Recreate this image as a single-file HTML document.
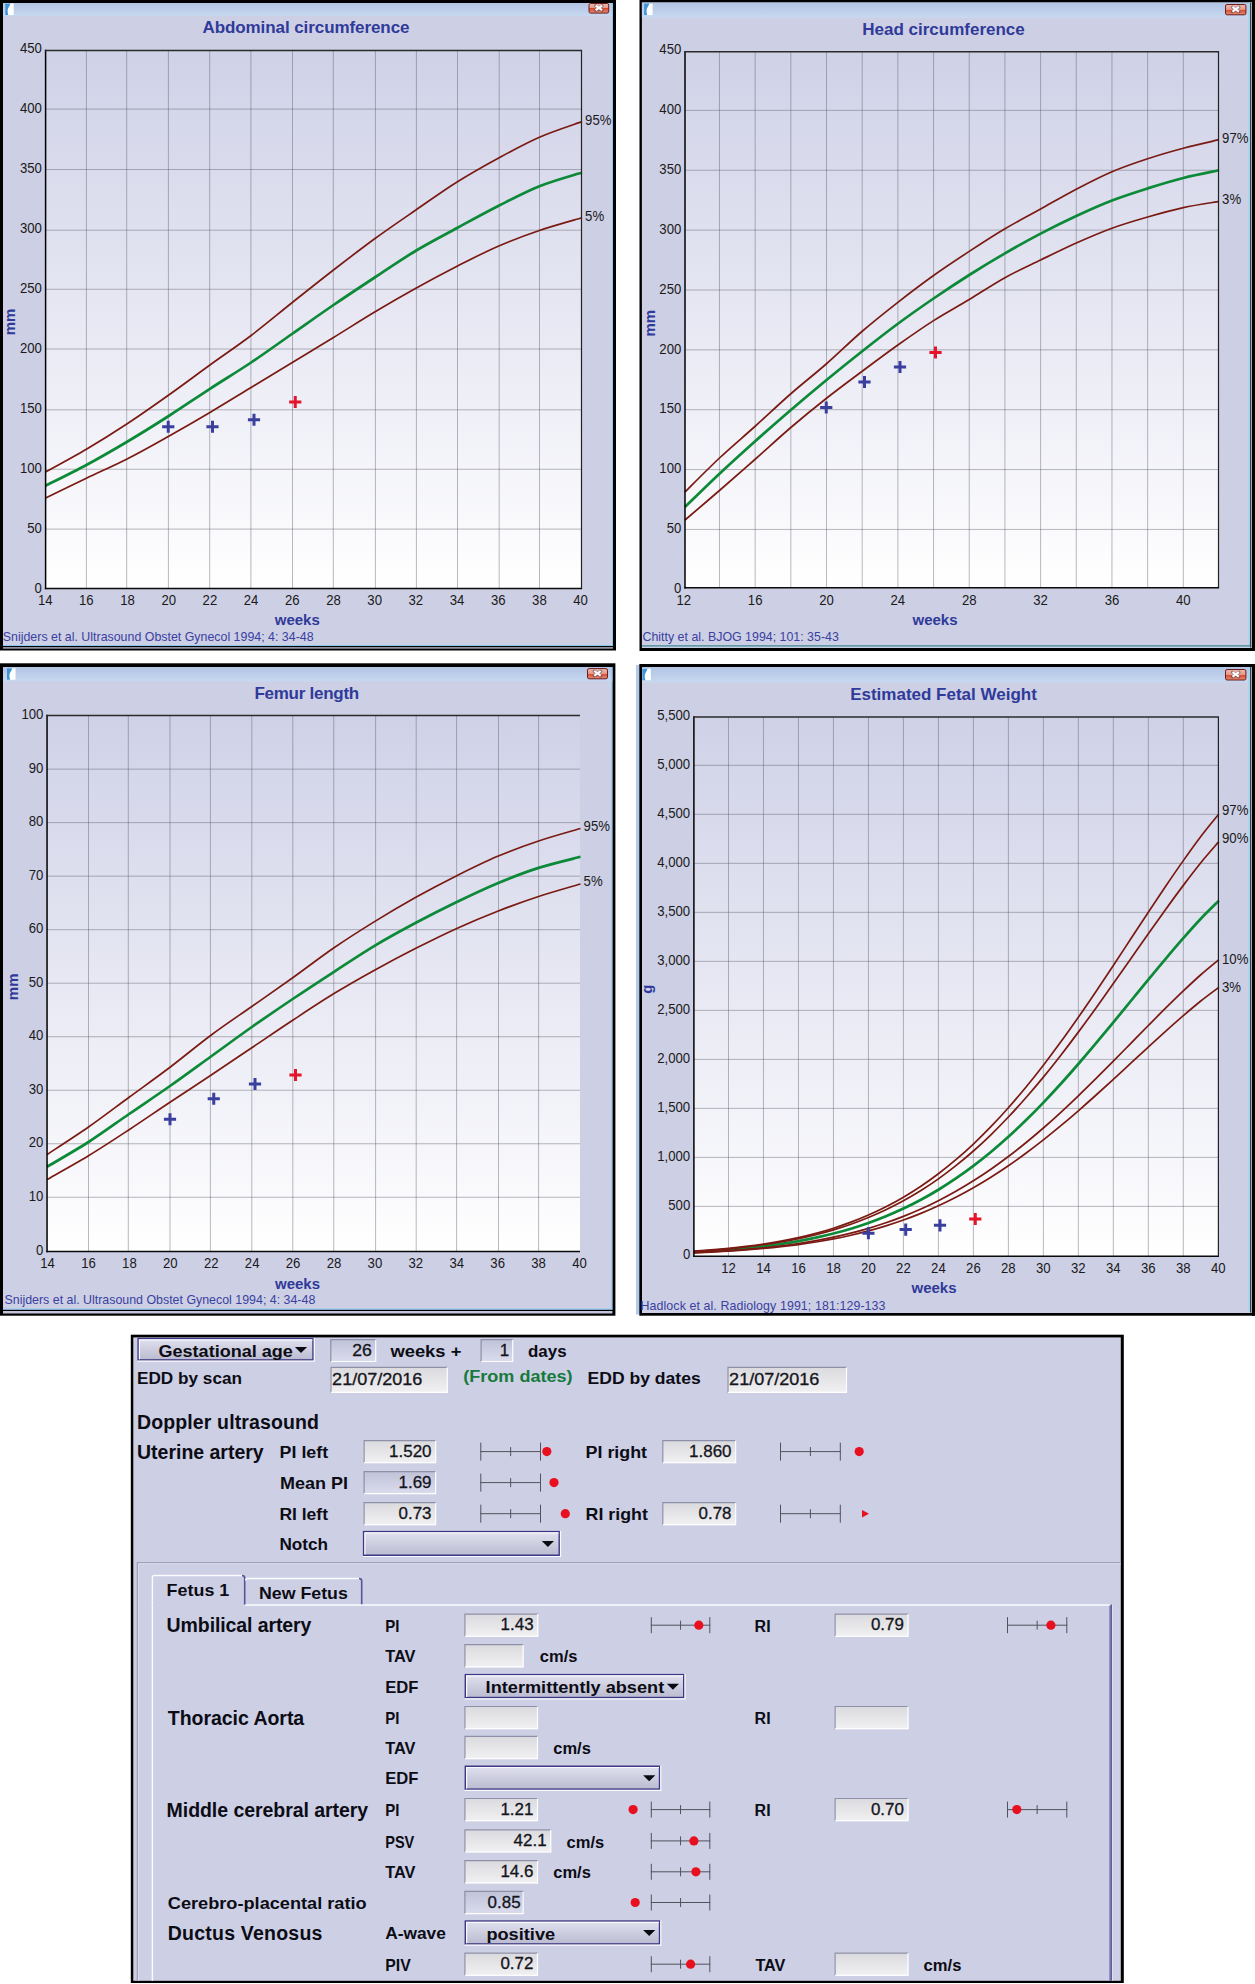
<!DOCTYPE html><html><head><meta charset="utf-8"><title>Fetal growth charts</title>
<style>html,body{margin:0;padding:0;background:#fff}svg{display:block}text{font-family:"Liberation Sans",sans-serif}</style></head><body>
<svg width="1255" height="1984" viewBox="0 0 1255 1984">
<defs>
<linearGradient id="tb" x1="0" y1="0" x2="0" y2="1"><stop offset="0" stop-color="#b1c4e3"/><stop offset="1" stop-color="#c7d8f0"/></linearGradient>
<linearGradient id="cb" x1="0" y1="0" x2="0" y2="1"><stop offset="0" stop-color="#f0b9ab"/><stop offset="0.48" stop-color="#e6998a"/><stop offset="0.52" stop-color="#d5492f"/><stop offset="1" stop-color="#e88e74"/></linearGradient>
<linearGradient id="pg" x1="0" y1="0" x2="0" y2="1"><stop offset="0" stop-color="#cfd1e7"/><stop offset="1" stop-color="#ffffff"/></linearGradient>
<linearGradient id="fld" x1="0" y1="0" x2="0" y2="1"><stop offset="0" stop-color="#dadade"/><stop offset="1" stop-color="#f1f1f3"/></linearGradient>
<linearGradient id="fldro" x1="0" y1="0" x2="0" y2="1"><stop offset="0" stop-color="#c0c2d9"/><stop offset="1" stop-color="#dbdcec"/></linearGradient>
<linearGradient id="dd" x1="0" y1="0" x2="0" y2="1"><stop offset="0" stop-color="#e2e2f0"/><stop offset="1" stop-color="#b9bacf"/></linearGradient>
</defs>
<rect x="0" y="0" width="1255" height="1984" fill="#fff"/>
<rect x="0" y="0" width="616" height="650.5" fill="#000"/>
<rect x="3" y="3" width="610" height="643" fill="#cdcfe5"/>
<rect x="3" y="3" width="610" height="13" fill="url(#tb)"/>
<line x1="612.5" y1="3" x2="612.5" y2="646" stroke="#86c8ee" stroke-width="1"/>
<line x1="3" y1="645.5" x2="613" y2="645.5" stroke="#86c8ee" stroke-width="1"/>
<g transform="translate(5.2,3.5)"><rect x="0" y="0" width="8.5" height="11.5" fill="#fff"/><path d="M0,0 L5.2,0 C4.5,3 2.2,4.5 2.4,7.5 C2.5,9.5 3,10.5 3,11.5 L0,11.5 Z" fill="#3f93d8"/></g>
<rect x="3" y="647.2" width="610" height="1.4" fill="#b4b5cb"/>
<g><rect x="589" y="3.5" width="19.7" height="9.6" rx="1.6" fill="url(#cb)" stroke="#6d1d1d" stroke-width="1"/>
<path d="M595.65,5.8 l6.4,4.6 M602.05,5.8 l-6.4,4.6" stroke="#4a4a60" stroke-width="3.3" stroke-linecap="round" fill="none" opacity=".55"/>
<path d="M595.65,5.6 l6.4,4.6 M602.05,5.6 l-6.4,4.6" stroke="#fff" stroke-width="2.1" stroke-linecap="butt" fill="none"/></g>
<rect x="45.6" y="50.45" width="535.9" height="538.15" fill="url(#pg)"/>
<g stroke="#4a4a58" stroke-opacity="0.39" stroke-width="1">
<line x1="86.4" y1="50.45" x2="86.4" y2="588.6"/>
<line x1="126.7" y1="50.45" x2="126.7" y2="588.6"/>
<line x1="168.4" y1="50.45" x2="168.4" y2="588.6"/>
<line x1="209.7" y1="50.45" x2="209.7" y2="588.6"/>
<line x1="250.9" y1="50.45" x2="250.9" y2="588.6"/>
<line x1="292.5" y1="50.45" x2="292.5" y2="588.6"/>
<line x1="333.3" y1="50.45" x2="333.3" y2="588.6"/>
<line x1="375.4" y1="50.45" x2="375.4" y2="588.6"/>
<line x1="416.4" y1="50.45" x2="416.4" y2="588.6"/>
<line x1="457.5" y1="50.45" x2="457.5" y2="588.6"/>
<line x1="499.2" y1="50.45" x2="499.2" y2="588.6"/>
<line x1="539.5" y1="50.45" x2="539.5" y2="588.6"/>
<line x1="45.6" y1="529.1" x2="581.5" y2="529.1"/>
<line x1="45.6" y1="469.25" x2="581.5" y2="469.25"/>
<line x1="45.6" y1="409.8" x2="581.5" y2="409.8"/>
<line x1="45.6" y1="349" x2="581.5" y2="349"/>
<line x1="45.6" y1="289.25" x2="581.5" y2="289.25"/>
<line x1="45.6" y1="230.2" x2="581.5" y2="230.2"/>
<line x1="45.6" y1="169.5" x2="581.5" y2="169.5"/>
<line x1="45.6" y1="109.1" x2="581.5" y2="109.1"/>
</g>
<g fill="none" stroke-linejoin="round">
<path d="M45.6,485.75 C52.4,482.29 72.72,472.38 86.38,465 C100.05,457.62 113.84,449.67 127.57,441.5 C141.3,433.33 155.03,424.78 168.75,416 C182.48,407.22 196.21,397.72 209.94,388.8 C223.67,379.88 237.39,371.68 251.12,362.5 C264.85,353.32 278.58,343.33 292.31,333.75 C306.04,324.17 319.76,314.38 333.49,305 C347.22,295.62 360.95,286.54 374.68,277.5 C388.41,268.46 402.13,259 415.86,250.75 C429.59,242.5 443.32,235.46 457.05,228 C470.77,220.54 484.5,212.97 498.23,206 C511.96,199.03 525.45,191.78 539.42,186.2 C553.38,180.62 574.9,174.78 582,172.5" stroke="#0c8a38" stroke-width="2.7"/>
<path d="M45.6,472 C52.4,468.21 72.72,457.33 86.38,449.25 C100.05,441.17 113.84,432.54 127.57,423.5 C141.3,414.46 155.03,404.75 168.75,395 C182.48,385.25 196.21,374.92 209.94,365 C223.67,355.08 237.39,345.92 251.12,335.5 C264.85,325.08 278.58,313.42 292.31,302.5 C306.04,291.58 319.76,280.62 333.49,270 C347.22,259.38 360.95,248.75 374.68,238.75 C388.41,228.75 402.13,219.46 415.86,210 C429.59,200.54 443.32,190.63 457.05,182 C470.77,173.37 484.5,165.67 498.23,158.2 C511.96,150.73 525.45,143.3 539.42,137.2 C553.38,131.1 574.9,124.2 582,121.6" stroke="#7a1a12" stroke-width="1.7"/>
<path d="M45.6,498 C52.4,494.71 72.72,484.79 86.38,478.25 C100.05,471.71 113.84,465.75 127.57,458.75 C141.3,451.75 155.03,443.96 168.75,436.25 C182.48,428.54 196.21,420.62 209.94,412.5 C223.67,404.38 237.39,395.83 251.12,387.5 C264.85,379.17 278.58,370.83 292.31,362.5 C306.04,354.17 319.76,345.92 333.49,337.5 C347.22,329.08 360.95,320.21 374.68,312 C388.41,303.79 402.13,295.88 415.86,288.25 C429.59,280.62 443.32,273.26 457.05,266.25 C470.77,259.24 484.5,252.16 498.23,246.2 C511.96,240.24 525.45,235.23 539.42,230.5 C553.38,225.77 574.9,219.92 582,217.8" stroke="#7a1a12" stroke-width="1.7"/>
</g>
<line x1="45.6" y1="49.65" x2="45.6" y2="589.35" stroke="#000" stroke-width="1.5"/>
<line x1="44.85" y1="588.6" x2="582.1" y2="588.6" stroke="#0a0a0a" stroke-width="1.5"/>
<line x1="44.85" y1="50.45" x2="582.1" y2="50.45" stroke="#2a2a2a" stroke-width="1.6"/>
<line x1="581.5" y1="50.45" x2="581.5" y2="588.6" stroke="#222" stroke-width="1.2"/>
<text x="41.9" y="592.8" font-size="14" fill="#1a1a1a" text-anchor="end" textLength="7.32" lengthAdjust="spacingAndGlyphs">0</text>
<text x="41.9" y="532.79" font-size="14" fill="#1a1a1a" text-anchor="end" textLength="14.64" lengthAdjust="spacingAndGlyphs">50</text>
<text x="41.9" y="472.78" font-size="14" fill="#1a1a1a" text-anchor="end" textLength="21.95" lengthAdjust="spacingAndGlyphs">100</text>
<text x="41.9" y="412.77" font-size="14" fill="#1a1a1a" text-anchor="end" textLength="21.95" lengthAdjust="spacingAndGlyphs">150</text>
<text x="41.9" y="352.76" font-size="14" fill="#1a1a1a" text-anchor="end" textLength="21.95" lengthAdjust="spacingAndGlyphs">200</text>
<text x="41.9" y="292.74" font-size="14" fill="#1a1a1a" text-anchor="end" textLength="21.95" lengthAdjust="spacingAndGlyphs">250</text>
<text x="41.9" y="232.73" font-size="14" fill="#1a1a1a" text-anchor="end" textLength="21.95" lengthAdjust="spacingAndGlyphs">300</text>
<text x="41.9" y="172.72" font-size="14" fill="#1a1a1a" text-anchor="end" textLength="21.95" lengthAdjust="spacingAndGlyphs">350</text>
<text x="41.9" y="112.71" font-size="14" fill="#1a1a1a" text-anchor="end" textLength="21.95" lengthAdjust="spacingAndGlyphs">400</text>
<text x="41.9" y="52.7" font-size="14" fill="#1a1a1a" text-anchor="end" textLength="21.95" lengthAdjust="spacingAndGlyphs">450</text>
<text x="45.2" y="605.4" font-size="14" fill="#1a1a1a" text-anchor="middle" textLength="14.64" lengthAdjust="spacingAndGlyphs">14</text>
<text x="86.38" y="605.4" font-size="14" fill="#1a1a1a" text-anchor="middle" textLength="14.64" lengthAdjust="spacingAndGlyphs">16</text>
<text x="127.57" y="605.4" font-size="14" fill="#1a1a1a" text-anchor="middle" textLength="14.64" lengthAdjust="spacingAndGlyphs">18</text>
<text x="168.75" y="605.4" font-size="14" fill="#1a1a1a" text-anchor="middle" textLength="14.64" lengthAdjust="spacingAndGlyphs">20</text>
<text x="209.94" y="605.4" font-size="14" fill="#1a1a1a" text-anchor="middle" textLength="14.64" lengthAdjust="spacingAndGlyphs">22</text>
<text x="251.12" y="605.4" font-size="14" fill="#1a1a1a" text-anchor="middle" textLength="14.64" lengthAdjust="spacingAndGlyphs">24</text>
<text x="292.31" y="605.4" font-size="14" fill="#1a1a1a" text-anchor="middle" textLength="14.64" lengthAdjust="spacingAndGlyphs">26</text>
<text x="333.49" y="605.4" font-size="14" fill="#1a1a1a" text-anchor="middle" textLength="14.64" lengthAdjust="spacingAndGlyphs">28</text>
<text x="374.68" y="605.4" font-size="14" fill="#1a1a1a" text-anchor="middle" textLength="14.64" lengthAdjust="spacingAndGlyphs">30</text>
<text x="415.86" y="605.4" font-size="14" fill="#1a1a1a" text-anchor="middle" textLength="14.64" lengthAdjust="spacingAndGlyphs">32</text>
<text x="457.05" y="605.4" font-size="14" fill="#1a1a1a" text-anchor="middle" textLength="14.64" lengthAdjust="spacingAndGlyphs">34</text>
<text x="498.23" y="605.4" font-size="14" fill="#1a1a1a" text-anchor="middle" textLength="14.64" lengthAdjust="spacingAndGlyphs">36</text>
<text x="539.42" y="605.4" font-size="14" fill="#1a1a1a" text-anchor="middle" textLength="14.64" lengthAdjust="spacingAndGlyphs">38</text>
<text x="580.6" y="605.4" font-size="14" fill="#1a1a1a" text-anchor="middle" textLength="14.64" lengthAdjust="spacingAndGlyphs">40</text>
<text x="585.1" y="125.1" font-size="14" fill="#1a1a1a" textLength="26.34" lengthAdjust="spacingAndGlyphs">95%</text>
<text x="585.1" y="220.5" font-size="14" fill="#1a1a1a" textLength="19.02" lengthAdjust="spacingAndGlyphs">5%</text>
<path d="M162.15,426.75 h12.2 M168.25,420.65 v12.2" stroke="#3a3f9e" stroke-width="3" fill="none"/>
<path d="M206.4,426.75 h12.2 M212.5,420.65 v12.2" stroke="#3a3f9e" stroke-width="3" fill="none"/>
<path d="M247.9,419.75 h12.2 M254,413.65 v12.2" stroke="#3a3f9e" stroke-width="3" fill="none"/>
<path d="M289.15,402 h12.2 M295.25,395.9 v12.2" stroke="#e5142a" stroke-width="3" fill="none"/>
<text x="306" y="33" font-size="17" font-weight="bold" fill="#2f3a99" text-anchor="middle" textLength="207" lengthAdjust="spacing">Abdominal circumference</text>
<text x="297.3" y="624.7" font-size="15" font-weight="bold" fill="#2f3a99" text-anchor="middle">weeks</text>
<text transform="translate(15.1,322) rotate(-90)" font-size="15" font-weight="bold" fill="#2f3a99" text-anchor="middle">mm</text>
<text x="2.8" y="641" font-size="12.4" fill="#3a3fa0" textLength="310.8" lengthAdjust="spacing">Snijders et al. Ultrasound Obstet Gynecol 1994; 4: 34-48</text>
<rect x="639.5" y="0" width="616.5" height="651" fill="#000"/>
<rect x="641.9" y="2.5" width="610.1" height="645.5" fill="#cdcfe5"/>
<rect x="641.9" y="2.5" width="610.1" height="15.3" fill="url(#tb)"/>
<g transform="translate(644.1,3.6)"><rect x="0" y="0" width="8.5" height="11.5" fill="#fff"/><path d="M0,0 L5.2,0 C4.5,3 2.2,4.5 2.4,7.5 C2.5,9.5 3,10.5 3,11.5 L0,11.5 Z" fill="#3f93d8"/></g>
<rect x="1248.4" y="2.7" width="1.6" height="643.8" fill="#9fd6f2"/>
<rect x="1250" y="2.7" width="0.9" height="644.8" fill="#222"/>
<rect x="1250.9" y="2.7" width="1.1" height="645.3" fill="#a8a8ac"/>
<rect x="1252" y="0" width="3" height="651" fill="#000"/>
<line x1="641.9" y1="645.8" x2="1250" y2="645.8" stroke="#3a8a92" stroke-width="1.2"/>
<g><rect x="1225.5" y="4.5" width="20.4" height="10.3" rx="1.6" fill="url(#cb)" stroke="#6d1d1d" stroke-width="1"/>
<path d="M1232.5,7.15 l6.4,4.6 M1238.9,7.15 l-6.4,4.6" stroke="#4a4a60" stroke-width="3.3" stroke-linecap="round" fill="none" opacity=".55"/>
<path d="M1232.5,6.95 l6.4,4.6 M1238.9,6.95 l-6.4,4.6" stroke="#fff" stroke-width="2.1" stroke-linecap="butt" fill="none"/></g>
<rect x="685" y="51.8" width="533.5" height="535.9" fill="url(#pg)"/>
<g stroke="#4a4a58" stroke-opacity="0.39" stroke-width="1">
<line x1="719.48" y1="51.8" x2="719.48" y2="587.7"/>
<line x1="755.16" y1="51.8" x2="755.16" y2="587.7"/>
<line x1="790.84" y1="51.8" x2="790.84" y2="587.7"/>
<line x1="826.52" y1="51.8" x2="826.52" y2="587.7"/>
<line x1="862.2" y1="51.8" x2="862.2" y2="587.7"/>
<line x1="897.88" y1="51.8" x2="897.88" y2="587.7"/>
<line x1="933.56" y1="51.8" x2="933.56" y2="587.7"/>
<line x1="969.24" y1="51.8" x2="969.24" y2="587.7"/>
<line x1="1004.92" y1="51.8" x2="1004.92" y2="587.7"/>
<line x1="1040.6" y1="51.8" x2="1040.6" y2="587.7"/>
<line x1="1076.28" y1="51.8" x2="1076.28" y2="587.7"/>
<line x1="1111.96" y1="51.8" x2="1111.96" y2="587.7"/>
<line x1="1147.64" y1="51.8" x2="1147.64" y2="587.7"/>
<line x1="1183.32" y1="51.8" x2="1183.32" y2="587.7"/>
<line x1="685" y1="529.43" x2="1218.5" y2="529.43"/>
<line x1="685" y1="469.57" x2="1218.5" y2="469.57"/>
<line x1="685" y1="409.7" x2="1218.5" y2="409.7"/>
<line x1="685" y1="349.83" x2="1218.5" y2="349.83"/>
<line x1="685" y1="289.97" x2="1218.5" y2="289.97"/>
<line x1="685" y1="230.1" x2="1218.5" y2="230.1"/>
<line x1="685" y1="170.23" x2="1218.5" y2="170.23"/>
<line x1="685" y1="110.37" x2="1218.5" y2="110.37"/>
</g>
<g fill="none" stroke-linejoin="round">
<path d="M685,507 C690.75,501.46 707.79,484.71 719.48,473.75 C731.17,462.79 743.27,451.88 755.16,441.25 C767.05,430.62 778.95,420.21 790.84,410 C802.73,399.79 814.63,389.79 826.52,380 C838.41,370.21 850.31,360.62 862.2,351.25 C874.09,341.88 885.99,332.54 897.88,323.75 C909.77,314.96 921.67,306.62 933.56,298.5 C945.45,290.38 957.35,282.52 969.24,275 C981.13,267.48 993.03,260.3 1004.92,253.4 C1016.81,246.5 1028.71,239.83 1040.6,233.6 C1052.49,227.37 1064.39,221.52 1076.28,216 C1088.17,210.48 1100.07,205.1 1111.96,200.5 C1123.85,195.9 1135.75,192.15 1147.64,188.4 C1159.53,184.65 1171.43,181.02 1183.32,178 C1195.21,174.98 1213.05,171.58 1219,170.3" stroke="#0c8a38" stroke-width="2.7"/>
<path d="M685,492 C690.75,486.33 707.79,468.96 719.48,458 C731.17,447.04 743.27,436.96 755.16,426.25 C767.05,415.54 778.95,404.17 790.84,393.75 C802.73,383.33 814.63,374.17 826.52,363.75 C838.41,353.33 850.31,341.49 862.2,331.25 C874.09,321.01 885.99,311.59 897.88,302.3 C909.77,293.01 921.67,283.98 933.56,275.5 C945.45,267.02 957.35,259.18 969.24,251.4 C981.13,243.62 993.03,235.87 1004.92,228.8 C1016.81,221.73 1028.71,215.6 1040.6,209 C1052.49,202.4 1064.39,195.42 1076.28,189.2 C1088.17,182.98 1100.07,176.78 1111.96,171.7 C1123.85,166.62 1135.75,162.62 1147.64,158.7 C1159.53,154.78 1171.43,151.37 1183.32,148.2 C1195.21,145.03 1213.05,141.12 1219,139.7" stroke="#7a1a12" stroke-width="1.7"/>
<path d="M685,520 C690.75,515.08 707.79,500.62 719.48,490.5 C731.17,480.38 743.27,469.75 755.16,459.25 C767.05,448.75 778.95,437.67 790.84,427.5 C802.73,417.33 814.63,407.62 826.52,398.25 C838.41,388.88 850.31,380.12 862.2,371.25 C874.09,362.38 885.99,353.44 897.88,345 C909.77,336.56 921.67,328.18 933.56,320.6 C945.45,313.02 957.35,306.65 969.24,299.5 C981.13,292.35 993.03,284.28 1004.92,277.7 C1016.81,271.12 1028.71,265.78 1040.6,260 C1052.49,254.22 1064.39,248.3 1076.28,243 C1088.17,237.7 1100.07,232.53 1111.96,228.2 C1123.85,223.87 1135.75,220.43 1147.64,217 C1159.53,213.57 1171.43,210.2 1183.32,207.6 C1195.21,205 1213.05,202.43 1219,201.4" stroke="#7a1a12" stroke-width="1.7"/>
</g>
<line x1="685" y1="51" x2="685" y2="588.45" stroke="#000" stroke-width="1.5"/>
<line x1="684.25" y1="587.7" x2="1219.1" y2="587.7" stroke="#0a0a0a" stroke-width="1.5"/>
<line x1="684.25" y1="51.8" x2="1219.1" y2="51.8" stroke="#2a2a2a" stroke-width="1.6"/>
<line x1="1218.5" y1="51.8" x2="1218.5" y2="587.7" stroke="#222" stroke-width="1.2"/>
<text x="681.3" y="593" font-size="14" fill="#1a1a1a" text-anchor="end" textLength="7.32" lengthAdjust="spacingAndGlyphs">0</text>
<text x="681.3" y="533.13" font-size="14" fill="#1a1a1a" text-anchor="end" textLength="14.64" lengthAdjust="spacingAndGlyphs">50</text>
<text x="681.3" y="473.27" font-size="14" fill="#1a1a1a" text-anchor="end" textLength="21.95" lengthAdjust="spacingAndGlyphs">100</text>
<text x="681.3" y="413.4" font-size="14" fill="#1a1a1a" text-anchor="end" textLength="21.95" lengthAdjust="spacingAndGlyphs">150</text>
<text x="681.3" y="353.53" font-size="14" fill="#1a1a1a" text-anchor="end" textLength="21.95" lengthAdjust="spacingAndGlyphs">200</text>
<text x="681.3" y="293.67" font-size="14" fill="#1a1a1a" text-anchor="end" textLength="21.95" lengthAdjust="spacingAndGlyphs">250</text>
<text x="681.3" y="233.8" font-size="14" fill="#1a1a1a" text-anchor="end" textLength="21.95" lengthAdjust="spacingAndGlyphs">300</text>
<text x="681.3" y="173.93" font-size="14" fill="#1a1a1a" text-anchor="end" textLength="21.95" lengthAdjust="spacingAndGlyphs">350</text>
<text x="681.3" y="114.07" font-size="14" fill="#1a1a1a" text-anchor="end" textLength="21.95" lengthAdjust="spacingAndGlyphs">400</text>
<text x="681.3" y="54.2" font-size="14" fill="#1a1a1a" text-anchor="end" textLength="21.95" lengthAdjust="spacingAndGlyphs">450</text>
<text x="683.8" y="604.5" font-size="14" fill="#1a1a1a" text-anchor="middle" textLength="14.64" lengthAdjust="spacingAndGlyphs">12</text>
<text x="755.16" y="604.5" font-size="14" fill="#1a1a1a" text-anchor="middle" textLength="14.64" lengthAdjust="spacingAndGlyphs">16</text>
<text x="826.52" y="604.5" font-size="14" fill="#1a1a1a" text-anchor="middle" textLength="14.64" lengthAdjust="spacingAndGlyphs">20</text>
<text x="897.88" y="604.5" font-size="14" fill="#1a1a1a" text-anchor="middle" textLength="14.64" lengthAdjust="spacingAndGlyphs">24</text>
<text x="969.24" y="604.5" font-size="14" fill="#1a1a1a" text-anchor="middle" textLength="14.64" lengthAdjust="spacingAndGlyphs">28</text>
<text x="1040.6" y="604.5" font-size="14" fill="#1a1a1a" text-anchor="middle" textLength="14.64" lengthAdjust="spacingAndGlyphs">32</text>
<text x="1111.96" y="604.5" font-size="14" fill="#1a1a1a" text-anchor="middle" textLength="14.64" lengthAdjust="spacingAndGlyphs">36</text>
<text x="1183.32" y="604.5" font-size="14" fill="#1a1a1a" text-anchor="middle" textLength="14.64" lengthAdjust="spacingAndGlyphs">40</text>
<text x="1222.1" y="142.6" font-size="14" fill="#1a1a1a" textLength="26.34" lengthAdjust="spacingAndGlyphs">97%</text>
<text x="1222.1" y="204" font-size="14" fill="#1a1a1a" textLength="19.02" lengthAdjust="spacingAndGlyphs">3%</text>
<path d="M820.15,407.5 h12.2 M826.25,401.4 v12.2" stroke="#3a3f9e" stroke-width="3" fill="none"/>
<path d="M858.4,382 h12.2 M864.5,375.9 v12.2" stroke="#3a3f9e" stroke-width="3" fill="none"/>
<path d="M893.9,367 h12.2 M900,360.9 v12.2" stroke="#3a3f9e" stroke-width="3" fill="none"/>
<path d="M929.4,352.5 h12.2 M935.5,346.4 v12.2" stroke="#e5142a" stroke-width="3" fill="none"/>
<text x="943.5" y="34.5" font-size="17" font-weight="bold" fill="#2f3a99" text-anchor="middle">Head circumference</text>
<text x="935" y="624.7" font-size="15" font-weight="bold" fill="#2f3a99" text-anchor="middle">weeks</text>
<text transform="translate(654.5,323.2) rotate(-90)" font-size="15" font-weight="bold" fill="#2f3a99" text-anchor="middle">mm</text>
<text x="642.5" y="641" font-size="12.4" fill="#3a3fa0">Chitty et al. BJOG 1994; 101: 35-43</text>
<rect x="0" y="663.3" width="615.4" height="652.4" fill="#000"/>
<rect x="3" y="667" width="609.4" height="642.6" fill="#cdcfe5"/>
<rect x="3" y="667" width="609.4" height="14.6" fill="url(#tb)"/>
<line x1="611.9" y1="667" x2="611.9" y2="1309.6" stroke="#86c8ee" stroke-width="1"/>
<line x1="3" y1="1309.1" x2="612.4" y2="1309.1" stroke="#86c8ee" stroke-width="1"/>
<g transform="translate(7,668.2)"><rect x="0" y="0" width="8.5" height="11.5" fill="#fff"/><path d="M0,0 L5.2,0 C4.5,3 2.2,4.5 2.4,7.5 C2.5,9.5 3,10.5 3,11.5 L0,11.5 Z" fill="#3f93d8"/></g>
<rect x="3" y="1311" width="609.4" height="2.5" fill="#c3c4da"/>
<g><rect x="587.5" y="668.6" width="20" height="10.2" rx="1.6" fill="url(#cb)" stroke="#6d1d1d" stroke-width="1"/>
<path d="M594.3,671.2 l6.4,4.6 M600.7,671.2 l-6.4,4.6" stroke="#4a4a60" stroke-width="3.3" stroke-linecap="round" fill="none" opacity=".55"/>
<path d="M594.3,671 l6.4,4.6 M600.7,671 l-6.4,4.6" stroke="#fff" stroke-width="2.1" stroke-linecap="butt" fill="none"/></g>
<rect x="47.05" y="715.5" width="532.95" height="536" fill="url(#pg)"/>
<g stroke="#4a4a58" stroke-opacity="0.39" stroke-width="1">
<line x1="88.5" y1="715.5" x2="88.5" y2="1251.5"/>
<line x1="128.3" y1="715.5" x2="128.3" y2="1251.5"/>
<line x1="170" y1="715.5" x2="170" y2="1251.5"/>
<line x1="210.4" y1="715.5" x2="210.4" y2="1251.5"/>
<line x1="251.8" y1="715.5" x2="251.8" y2="1251.5"/>
<line x1="292.8" y1="715.5" x2="292.8" y2="1251.5"/>
<line x1="333.75" y1="715.5" x2="333.75" y2="1251.5"/>
<line x1="375.6" y1="715.5" x2="375.6" y2="1251.5"/>
<line x1="416.2" y1="715.5" x2="416.2" y2="1251.5"/>
<line x1="456.6" y1="715.5" x2="456.6" y2="1251.5"/>
<line x1="498.5" y1="715.5" x2="498.5" y2="1251.5"/>
<line x1="538.6" y1="715.5" x2="538.6" y2="1251.5"/>
<line x1="47.05" y1="1197.28" x2="580" y2="1197.28"/>
<line x1="47.05" y1="1143.76" x2="580" y2="1143.76"/>
<line x1="47.05" y1="1090.24" x2="580" y2="1090.24"/>
<line x1="47.05" y1="1036.72" x2="580" y2="1036.72"/>
<line x1="47.05" y1="983.2" x2="580" y2="983.2"/>
<line x1="47.05" y1="929.68" x2="580" y2="929.68"/>
<line x1="47.05" y1="876.16" x2="580" y2="876.16"/>
<line x1="47.05" y1="822.64" x2="580" y2="822.64"/>
<line x1="47.05" y1="769.12" x2="580" y2="769.12"/>
</g>
<g fill="none" stroke-linejoin="round">
<path d="M47.05,1166.75 C53.96,1162.62 74.79,1150.83 88.52,1142 C102.25,1133.17 115.79,1123.12 129.43,1113.75 C143.07,1104.38 156.71,1095.33 170.35,1085.75 C183.98,1076.17 197.62,1066.08 211.26,1056.25 C224.9,1046.42 238.54,1036.33 252.18,1026.75 C265.82,1017.17 279.45,1007.91 293.09,998.75 C306.73,989.59 320.37,980.66 334.01,971.8 C347.65,962.94 361.28,953.77 374.92,945.6 C388.56,937.43 402.2,930.07 415.84,922.8 C429.48,915.53 443.12,908.6 456.75,902 C470.39,895.4 484.03,888.88 497.67,883.2 C511.31,877.52 524.78,872.3 538.58,867.9 C552.39,863.5 573.51,858.65 580.5,856.8" stroke="#0c8a38" stroke-width="2.7"/>
<path d="M47.05,1154.5 C53.96,1149.92 74.79,1136.58 88.52,1127 C102.25,1117.42 115.79,1107 129.43,1097 C143.07,1087 156.71,1077.33 170.35,1067 C183.98,1056.67 197.62,1045.12 211.26,1035 C224.9,1024.88 238.54,1015.83 252.18,1006.25 C265.82,996.67 279.45,987.24 293.09,977.5 C306.73,967.76 320.37,957.15 334.01,947.8 C347.65,938.45 361.28,929.82 374.92,921.4 C388.56,912.98 402.2,904.92 415.84,897.3 C429.48,889.68 443.12,882.53 456.75,875.7 C470.39,868.87 484.03,862.08 497.67,856.3 C511.31,850.52 524.78,845.63 538.58,841 C552.39,836.37 573.51,830.58 580.5,828.5" stroke="#7a1a12" stroke-width="1.7"/>
<path d="M47.05,1179.5 C53.96,1175.54 74.79,1164.08 88.52,1155.75 C102.25,1147.42 115.79,1138.46 129.43,1129.5 C143.07,1120.54 156.71,1111.08 170.35,1102 C183.98,1092.92 197.62,1084.08 211.26,1075 C224.9,1065.92 238.54,1056.67 252.18,1047.5 C265.82,1038.33 279.45,1028.98 293.09,1020 C306.73,1011.02 320.37,1001.93 334.01,993.6 C347.65,985.27 361.28,977.55 374.92,970 C388.56,962.45 402.2,955.23 415.84,948.3 C429.48,941.37 443.12,934.58 456.75,928.4 C470.39,922.22 484.03,916.52 497.67,911.2 C511.31,905.88 524.78,901.03 538.58,896.5 C552.39,891.97 573.51,886.08 580.5,884" stroke="#7a1a12" stroke-width="1.7"/>
</g>
<line x1="47.05" y1="714.7" x2="47.05" y2="1252.25" stroke="#000" stroke-width="1.5"/>
<line x1="46.3" y1="1251.5" x2="580" y2="1251.5" stroke="#0a0a0a" stroke-width="1.5"/>
<line x1="46.3" y1="715.5" x2="580" y2="715.5" stroke="#2a2a2a" stroke-width="1.6"/>
<text x="43.35" y="1254.5" font-size="14" fill="#1a1a1a" text-anchor="end" textLength="7.32" lengthAdjust="spacingAndGlyphs">0</text>
<text x="43.35" y="1200.98" font-size="14" fill="#1a1a1a" text-anchor="end" textLength="14.64" lengthAdjust="spacingAndGlyphs">10</text>
<text x="43.35" y="1147.46" font-size="14" fill="#1a1a1a" text-anchor="end" textLength="14.64" lengthAdjust="spacingAndGlyphs">20</text>
<text x="43.35" y="1093.94" font-size="14" fill="#1a1a1a" text-anchor="end" textLength="14.64" lengthAdjust="spacingAndGlyphs">30</text>
<text x="43.35" y="1040.42" font-size="14" fill="#1a1a1a" text-anchor="end" textLength="14.64" lengthAdjust="spacingAndGlyphs">40</text>
<text x="43.35" y="986.9" font-size="14" fill="#1a1a1a" text-anchor="end" textLength="14.64" lengthAdjust="spacingAndGlyphs">50</text>
<text x="43.35" y="933.38" font-size="14" fill="#1a1a1a" text-anchor="end" textLength="14.64" lengthAdjust="spacingAndGlyphs">60</text>
<text x="43.35" y="879.86" font-size="14" fill="#1a1a1a" text-anchor="end" textLength="14.64" lengthAdjust="spacingAndGlyphs">70</text>
<text x="43.35" y="826.34" font-size="14" fill="#1a1a1a" text-anchor="end" textLength="14.64" lengthAdjust="spacingAndGlyphs">80</text>
<text x="43.35" y="772.82" font-size="14" fill="#1a1a1a" text-anchor="end" textLength="14.64" lengthAdjust="spacingAndGlyphs">90</text>
<text x="43.35" y="719.3" font-size="14" fill="#1a1a1a" text-anchor="end" textLength="21.95" lengthAdjust="spacingAndGlyphs">100</text>
<text x="47.6" y="1268.3" font-size="14" fill="#1a1a1a" text-anchor="middle" textLength="14.64" lengthAdjust="spacingAndGlyphs">14</text>
<text x="88.52" y="1268.3" font-size="14" fill="#1a1a1a" text-anchor="middle" textLength="14.64" lengthAdjust="spacingAndGlyphs">16</text>
<text x="129.43" y="1268.3" font-size="14" fill="#1a1a1a" text-anchor="middle" textLength="14.64" lengthAdjust="spacingAndGlyphs">18</text>
<text x="170.35" y="1268.3" font-size="14" fill="#1a1a1a" text-anchor="middle" textLength="14.64" lengthAdjust="spacingAndGlyphs">20</text>
<text x="211.26" y="1268.3" font-size="14" fill="#1a1a1a" text-anchor="middle" textLength="14.64" lengthAdjust="spacingAndGlyphs">22</text>
<text x="252.18" y="1268.3" font-size="14" fill="#1a1a1a" text-anchor="middle" textLength="14.64" lengthAdjust="spacingAndGlyphs">24</text>
<text x="293.09" y="1268.3" font-size="14" fill="#1a1a1a" text-anchor="middle" textLength="14.64" lengthAdjust="spacingAndGlyphs">26</text>
<text x="334.01" y="1268.3" font-size="14" fill="#1a1a1a" text-anchor="middle" textLength="14.64" lengthAdjust="spacingAndGlyphs">28</text>
<text x="374.92" y="1268.3" font-size="14" fill="#1a1a1a" text-anchor="middle" textLength="14.64" lengthAdjust="spacingAndGlyphs">30</text>
<text x="415.84" y="1268.3" font-size="14" fill="#1a1a1a" text-anchor="middle" textLength="14.64" lengthAdjust="spacingAndGlyphs">32</text>
<text x="456.75" y="1268.3" font-size="14" fill="#1a1a1a" text-anchor="middle" textLength="14.64" lengthAdjust="spacingAndGlyphs">34</text>
<text x="497.67" y="1268.3" font-size="14" fill="#1a1a1a" text-anchor="middle" textLength="14.64" lengthAdjust="spacingAndGlyphs">36</text>
<text x="538.58" y="1268.3" font-size="14" fill="#1a1a1a" text-anchor="middle" textLength="14.64" lengthAdjust="spacingAndGlyphs">38</text>
<text x="579.5" y="1268.3" font-size="14" fill="#1a1a1a" text-anchor="middle" textLength="14.64" lengthAdjust="spacingAndGlyphs">40</text>
<text x="583.6" y="830.9" font-size="14" fill="#1a1a1a" textLength="26.34" lengthAdjust="spacingAndGlyphs">95%</text>
<text x="583.6" y="886.3" font-size="14" fill="#1a1a1a" textLength="19.02" lengthAdjust="spacingAndGlyphs">5%</text>
<path d="M163.9,1119.25 h12.2 M170,1113.15 v12.2" stroke="#3a3f9e" stroke-width="3" fill="none"/>
<path d="M207.65,1098.75 h12.2 M213.75,1092.65 v12.2" stroke="#3a3f9e" stroke-width="3" fill="none"/>
<path d="M248.9,1084 h12.2 M255,1077.9 v12.2" stroke="#3a3f9e" stroke-width="3" fill="none"/>
<path d="M289.4,1075 h12.2 M295.5,1068.9 v12.2" stroke="#e5142a" stroke-width="3" fill="none"/>
<text x="306.8" y="699" font-size="17" font-weight="bold" fill="#2f3a99" text-anchor="middle" textLength="104.8" lengthAdjust="spacing">Femur length</text>
<text x="297.5" y="1288.5" font-size="15" font-weight="bold" fill="#2f3a99" text-anchor="middle">weeks</text>
<text transform="translate(17.9,986.8) rotate(-90)" font-size="15" font-weight="bold" fill="#2f3a99" text-anchor="middle">mm</text>
<text x="4.5" y="1303.9" font-size="12.4" fill="#3a3fa0" textLength="310.8" lengthAdjust="spacing">Snijders et al. Ultrasound Obstet Gynecol 1994; 4: 34-48</text>
<rect x="636" y="665" width="3.5" height="649.5" fill="#b2caeb"/>
<rect x="639.3" y="664" width="616.7" height="651.7" fill="#000"/>
<rect x="642" y="667" width="610" height="646" fill="#cdcfe5"/>
<rect x="642" y="667" width="610" height="15.6" fill="url(#tb)"/>
<g transform="translate(642.3,668.7)"><rect x="0" y="0" width="8.5" height="11.5" fill="#fff"/><path d="M0,0 L5.2,0 C4.5,3 2.2,4.5 2.4,7.5 C2.5,9.5 3,10.5 3,11.5 L0,11.5 Z" fill="#3f93d8"/></g>
<rect x="1248.4" y="667" width="1.6" height="644.5" fill="#9fd6f2"/>
<rect x="1250" y="667" width="0.9" height="645.5" fill="#222"/>
<rect x="1250.9" y="667" width="1.1" height="646" fill="#a8a8ac"/>
<rect x="1252" y="664" width="3" height="651.7" fill="#000"/>
<g><rect x="1225.5" y="669.5" width="20.4" height="10.5" rx="1.6" fill="url(#cb)" stroke="#6d1d1d" stroke-width="1"/>
<path d="M1232.5,672.25 l6.4,4.6 M1238.9,672.25 l-6.4,4.6" stroke="#4a4a60" stroke-width="3.3" stroke-linecap="round" fill="none" opacity=".55"/>
<path d="M1232.5,672.05 l6.4,4.6 M1238.9,672.05 l-6.4,4.6" stroke="#fff" stroke-width="2.1" stroke-linecap="butt" fill="none"/></g>
<rect x="693.9" y="717" width="524.5" height="539.2" fill="url(#pg)"/>
<g stroke="#4a4a58" stroke-opacity="0.39" stroke-width="1">
<line x1="728.49" y1="717" x2="728.49" y2="1256.2"/>
<line x1="763.47" y1="717" x2="763.47" y2="1256.2"/>
<line x1="798.46" y1="717" x2="798.46" y2="1256.2"/>
<line x1="833.45" y1="717" x2="833.45" y2="1256.2"/>
<line x1="868.43" y1="717" x2="868.43" y2="1256.2"/>
<line x1="903.42" y1="717" x2="903.42" y2="1256.2"/>
<line x1="938.41" y1="717" x2="938.41" y2="1256.2"/>
<line x1="973.39" y1="717" x2="973.39" y2="1256.2"/>
<line x1="1008.38" y1="717" x2="1008.38" y2="1256.2"/>
<line x1="1043.37" y1="717" x2="1043.37" y2="1256.2"/>
<line x1="1078.35" y1="717" x2="1078.35" y2="1256.2"/>
<line x1="1113.34" y1="717" x2="1113.34" y2="1256.2"/>
<line x1="1148.33" y1="717" x2="1148.33" y2="1256.2"/>
<line x1="1183.31" y1="717" x2="1183.31" y2="1256.2"/>
<line x1="693.9" y1="1206.39" x2="1218.4" y2="1206.39"/>
<line x1="693.9" y1="1157.38" x2="1218.4" y2="1157.38"/>
<line x1="693.9" y1="1108.37" x2="1218.4" y2="1108.37"/>
<line x1="693.9" y1="1059.36" x2="1218.4" y2="1059.36"/>
<line x1="693.9" y1="1010.35" x2="1218.4" y2="1010.35"/>
<line x1="693.9" y1="961.35" x2="1218.4" y2="961.35"/>
<line x1="693.9" y1="912.34" x2="1218.4" y2="912.34"/>
<line x1="693.9" y1="863.33" x2="1218.4" y2="863.33"/>
<line x1="693.9" y1="814.32" x2="1218.4" y2="814.32"/>
<line x1="693.9" y1="765.31" x2="1218.4" y2="765.31"/>
</g>
<g fill="none" stroke-linejoin="round">
<path d="M693.9,1252.01 C696.75,1251.84 705.23,1251.39 710.99,1251.01 C716.76,1250.64 722.66,1250.23 728.49,1249.76 C734.32,1249.29 740.15,1248.79 745.98,1248.21 C751.81,1247.63 757.64,1247 763.47,1246.29 C769.3,1245.58 775.14,1244.81 780.97,1243.94 C786.8,1243.07 792.63,1242.14 798.46,1241.09 C804.29,1240.04 810.12,1238.91 815.95,1237.65 C821.78,1236.39 827.62,1235.04 833.45,1233.54 C839.28,1232.05 845.11,1230.44 850.94,1228.68 C856.77,1226.91 862.6,1225.02 868.43,1222.96 C874.26,1220.9 880.1,1218.69 885.93,1216.29 C891.76,1213.9 897.59,1211.35 903.42,1208.59 C909.25,1205.84 915.08,1202.91 920.91,1199.77 C926.74,1196.63 932.58,1193.3 938.41,1189.75 C944.24,1186.2 950.07,1182.45 955.9,1178.47 C961.73,1174.49 967.56,1170.3 973.39,1165.89 C979.22,1161.48 985.06,1156.84 990.89,1151.99 C996.72,1147.13 1002.55,1142.05 1008.38,1136.77 C1014.21,1131.48 1020.04,1125.97 1025.87,1120.27 C1031.7,1114.57 1037.54,1108.65 1043.37,1102.56 C1049.2,1096.47 1055.03,1090.18 1060.86,1083.75 C1066.69,1077.32 1072.52,1070.7 1078.35,1063.99 C1084.18,1057.27 1090.02,1050.39 1095.85,1043.45 C1101.68,1036.52 1107.51,1029.45 1113.34,1022.37 C1119.17,1015.3 1125,1008.13 1130.83,1001 C1136.66,993.88 1142.5,986.7 1148.33,979.63 C1154.16,972.56 1159.99,965.49 1165.82,958.58 C1171.65,951.67 1177.48,944.81 1183.31,938.17 C1189.14,931.53 1194.88,925 1200.81,918.75 C1206.74,912.49 1215.88,903.67 1218.9,900.66" stroke="#0c8a38" stroke-width="2.7"/>
<path d="M693.9,1251.18 C696.75,1250.97 705.23,1250.4 710.99,1249.94 C716.76,1249.47 722.66,1248.96 728.49,1248.38 C734.32,1247.8 740.15,1247.17 745.98,1246.45 C751.81,1245.73 757.64,1244.95 763.47,1244.06 C769.3,1243.18 775.14,1242.22 780.97,1241.14 C786.8,1240.06 792.63,1238.89 798.46,1237.59 C804.29,1236.28 810.12,1234.88 815.95,1233.31 C821.78,1231.75 827.62,1230.06 833.45,1228.2 C839.28,1226.34 845.11,1224.34 850.94,1222.15 C856.77,1219.95 862.6,1217.6 868.43,1215.03 C874.26,1212.46 880.1,1209.72 885.93,1206.74 C891.76,1203.76 897.59,1200.58 903.42,1197.15 C909.25,1193.73 915.08,1190.08 920.91,1186.17 C926.74,1182.26 932.58,1178.12 938.41,1173.7 C944.24,1169.29 950.07,1164.62 955.9,1159.67 C961.73,1154.72 967.56,1149.51 973.39,1144.01 C979.22,1138.52 985.06,1132.75 990.89,1126.71 C996.72,1120.67 1002.55,1114.35 1008.38,1107.77 C1014.21,1101.19 1020.04,1094.34 1025.87,1087.24 C1031.7,1080.15 1037.54,1072.78 1043.37,1065.2 C1049.2,1057.63 1055.03,1049.8 1060.86,1041.8 C1066.69,1033.8 1072.52,1025.56 1078.35,1017.2 C1084.18,1008.85 1090.02,1000.28 1095.85,991.65 C1101.68,983.02 1107.51,974.22 1113.34,965.42 C1119.17,956.62 1125,947.69 1130.83,938.83 C1136.66,929.96 1142.5,921.03 1148.33,912.24 C1154.16,903.44 1159.99,894.63 1165.82,886.03 C1171.65,877.43 1177.48,868.9 1183.31,860.63 C1189.14,852.37 1194.88,844.25 1200.81,836.47 C1206.74,828.69 1215.88,817.71 1218.9,813.96" stroke="#7a1a12" stroke-width="1.7"/>
<path d="M693.9,1251.44 C696.75,1251.25 705.23,1250.72 710.99,1250.28 C716.76,1249.84 722.66,1249.37 728.49,1248.82 C734.32,1248.28 740.15,1247.69 745.98,1247.01 C751.81,1246.33 757.64,1245.6 763.47,1244.77 C769.3,1243.94 775.14,1243.04 780.97,1242.03 C786.8,1241.02 792.63,1239.93 798.46,1238.71 C804.29,1237.48 810.12,1236.16 815.95,1234.7 C821.78,1233.23 827.62,1231.65 833.45,1229.91 C839.28,1228.16 845.11,1226.29 850.94,1224.23 C856.77,1222.17 862.6,1219.97 868.43,1217.56 C874.26,1215.15 880.1,1212.58 885.93,1209.79 C891.76,1206.99 897.59,1204.02 903.42,1200.8 C909.25,1197.59 915.08,1194.18 920.91,1190.51 C926.74,1186.85 932.58,1182.96 938.41,1178.82 C944.24,1174.68 950.07,1170.31 955.9,1165.67 C961.73,1161.03 967.56,1156.14 973.39,1150.99 C979.22,1145.85 985.06,1140.44 990.89,1134.78 C996.72,1129.12 1002.55,1123.19 1008.38,1117.03 C1014.21,1110.86 1020.04,1104.43 1025.87,1097.78 C1031.7,1091.13 1037.54,1084.23 1043.37,1077.13 C1049.2,1070.03 1055.03,1062.69 1060.86,1055.19 C1066.69,1047.69 1072.52,1039.97 1078.35,1032.13 C1084.18,1024.3 1090.02,1016.27 1095.85,1008.18 C1101.68,1000.09 1107.51,991.85 1113.34,983.6 C1119.17,975.34 1125,966.98 1130.83,958.67 C1136.66,950.36 1142.5,941.99 1148.33,933.74 C1154.16,925.5 1159.99,917.25 1165.82,909.19 C1171.65,901.12 1177.48,893.12 1183.31,885.38 C1189.14,877.64 1194.88,870.02 1200.81,862.73 C1206.74,855.43 1215.88,845.14 1218.9,841.63" stroke="#7a1a12" stroke-width="1.7"/>
<path d="M693.9,1252.57 C696.75,1252.43 705.23,1252.05 710.99,1251.74 C716.76,1251.43 722.66,1251.09 728.49,1250.7 C734.32,1250.31 740.15,1249.89 745.98,1249.4 C751.81,1248.92 757.64,1248.4 763.47,1247.8 C769.3,1247.21 775.14,1246.57 780.97,1245.85 C786.8,1245.12 792.63,1244.34 798.46,1243.47 C804.29,1242.6 810.12,1241.65 815.95,1240.6 C821.78,1239.56 827.62,1238.43 833.45,1237.18 C839.28,1235.94 845.11,1234.6 850.94,1233.13 C856.77,1231.65 862.6,1230.08 868.43,1228.36 C874.26,1226.64 880.1,1224.8 885.93,1222.8 C891.76,1220.81 897.59,1218.68 903.42,1216.38 C909.25,1214.09 915.08,1211.64 920.91,1209.03 C926.74,1206.41 932.58,1203.63 938.41,1200.67 C944.24,1197.71 950.07,1194.59 955.9,1191.27 C961.73,1187.96 967.56,1184.46 973.39,1180.78 C979.22,1177.1 985.06,1173.24 990.89,1169.19 C996.72,1165.15 1002.55,1160.91 1008.38,1156.51 C1014.21,1152.1 1020.04,1147.51 1025.87,1142.75 C1031.7,1138 1037.54,1133.07 1043.37,1127.99 C1049.2,1122.92 1055.03,1117.67 1060.86,1112.31 C1066.69,1106.95 1072.52,1101.44 1078.35,1095.84 C1084.18,1090.24 1090.02,1084.5 1095.85,1078.72 C1101.68,1072.94 1107.51,1067.05 1113.34,1061.15 C1119.17,1055.25 1125,1049.27 1130.83,1043.33 C1136.66,1037.4 1142.5,1031.41 1148.33,1025.52 C1154.16,1019.63 1159.99,1013.73 1165.82,1007.97 C1171.65,1002.21 1177.48,996.49 1183.31,990.95 C1189.14,985.42 1194.88,979.98 1200.81,974.76 C1206.74,969.55 1215.88,962.2 1218.9,959.69" stroke="#7a1a12" stroke-width="1.7"/>
<path d="M693.9,1252.84 C696.75,1252.71 705.23,1252.37 710.99,1252.08 C716.76,1251.8 722.66,1251.49 728.49,1251.14 C734.32,1250.79 740.15,1250.4 745.98,1249.96 C751.81,1249.53 757.64,1249.05 763.47,1248.52 C769.3,1247.98 775.14,1247.4 780.97,1246.74 C786.8,1246.09 792.63,1245.38 798.46,1244.59 C804.29,1243.79 810.12,1242.94 815.95,1241.99 C821.78,1241.04 827.62,1240.02 833.45,1238.89 C839.28,1237.76 845.11,1236.54 850.94,1235.21 C856.77,1233.88 862.6,1232.45 868.43,1230.89 C874.26,1229.33 880.1,1227.66 885.93,1225.85 C891.76,1224.04 897.59,1222.11 903.42,1220.03 C909.25,1217.95 915.08,1215.74 920.91,1213.37 C926.74,1210.99 932.58,1208.48 938.41,1205.79 C944.24,1203.11 950.07,1200.28 955.9,1197.27 C961.73,1194.27 967.56,1191.1 973.39,1187.77 C979.22,1184.43 985.06,1180.93 990.89,1177.26 C996.72,1173.59 1002.55,1169.76 1008.38,1165.76 C1014.21,1161.77 1020.04,1157.6 1025.87,1153.29 C1031.7,1148.99 1037.54,1144.51 1043.37,1139.91 C1049.2,1135.31 1055.03,1130.56 1060.86,1125.7 C1066.69,1120.84 1072.52,1115.84 1078.35,1110.77 C1084.18,1105.69 1090.02,1100.49 1095.85,1095.25 C1101.68,1090.01 1107.51,1084.67 1113.34,1079.32 C1119.17,1073.98 1125,1068.56 1130.83,1063.18 C1136.66,1057.79 1142.5,1052.37 1148.33,1047.03 C1154.16,1041.69 1159.99,1036.34 1165.82,1031.12 C1171.65,1025.9 1177.48,1020.71 1183.31,1015.7 C1189.14,1010.68 1194.88,1005.75 1200.81,1001.02 C1206.74,996.3 1215.88,989.63 1218.9,987.36" stroke="#7a1a12" stroke-width="1.7"/>
</g>
<line x1="693.9" y1="716.2" x2="693.9" y2="1256.95" stroke="#000" stroke-width="1.5"/>
<line x1="693.15" y1="1256.2" x2="1219" y2="1256.2" stroke="#0a0a0a" stroke-width="1.5"/>
<line x1="693.15" y1="717" x2="1219" y2="717" stroke="#2a2a2a" stroke-width="1.6"/>
<line x1="1218.4" y1="717" x2="1218.4" y2="1256.2" stroke="#222" stroke-width="1.2"/>
<text x="690.2" y="1259.1" font-size="14" fill="#1a1a1a" text-anchor="end" textLength="7.32" lengthAdjust="spacingAndGlyphs">0</text>
<text x="690.2" y="1210.09" font-size="14" fill="#1a1a1a" text-anchor="end" textLength="21.95" lengthAdjust="spacingAndGlyphs">500</text>
<text x="690.2" y="1161.08" font-size="14" fill="#1a1a1a" text-anchor="end" textLength="32.93" lengthAdjust="spacingAndGlyphs">1,000</text>
<text x="690.2" y="1112.07" font-size="14" fill="#1a1a1a" text-anchor="end" textLength="32.93" lengthAdjust="spacingAndGlyphs">1,500</text>
<text x="690.2" y="1063.06" font-size="14" fill="#1a1a1a" text-anchor="end" textLength="32.93" lengthAdjust="spacingAndGlyphs">2,000</text>
<text x="690.2" y="1014.05" font-size="14" fill="#1a1a1a" text-anchor="end" textLength="32.93" lengthAdjust="spacingAndGlyphs">2,500</text>
<text x="690.2" y="965.05" font-size="14" fill="#1a1a1a" text-anchor="end" textLength="32.93" lengthAdjust="spacingAndGlyphs">3,000</text>
<text x="690.2" y="916.04" font-size="14" fill="#1a1a1a" text-anchor="end" textLength="32.93" lengthAdjust="spacingAndGlyphs">3,500</text>
<text x="690.2" y="867.03" font-size="14" fill="#1a1a1a" text-anchor="end" textLength="32.93" lengthAdjust="spacingAndGlyphs">4,000</text>
<text x="690.2" y="818.02" font-size="14" fill="#1a1a1a" text-anchor="end" textLength="32.93" lengthAdjust="spacingAndGlyphs">4,500</text>
<text x="690.2" y="769.01" font-size="14" fill="#1a1a1a" text-anchor="end" textLength="32.93" lengthAdjust="spacingAndGlyphs">5,000</text>
<text x="690.2" y="720" font-size="14" fill="#1a1a1a" text-anchor="end" textLength="32.93" lengthAdjust="spacingAndGlyphs">5,500</text>
<text x="728.49" y="1273" font-size="14" fill="#1a1a1a" text-anchor="middle" textLength="14.64" lengthAdjust="spacingAndGlyphs">12</text>
<text x="763.47" y="1273" font-size="14" fill="#1a1a1a" text-anchor="middle" textLength="14.64" lengthAdjust="spacingAndGlyphs">14</text>
<text x="798.46" y="1273" font-size="14" fill="#1a1a1a" text-anchor="middle" textLength="14.64" lengthAdjust="spacingAndGlyphs">16</text>
<text x="833.45" y="1273" font-size="14" fill="#1a1a1a" text-anchor="middle" textLength="14.64" lengthAdjust="spacingAndGlyphs">18</text>
<text x="868.43" y="1273" font-size="14" fill="#1a1a1a" text-anchor="middle" textLength="14.64" lengthAdjust="spacingAndGlyphs">20</text>
<text x="903.42" y="1273" font-size="14" fill="#1a1a1a" text-anchor="middle" textLength="14.64" lengthAdjust="spacingAndGlyphs">22</text>
<text x="938.41" y="1273" font-size="14" fill="#1a1a1a" text-anchor="middle" textLength="14.64" lengthAdjust="spacingAndGlyphs">24</text>
<text x="973.39" y="1273" font-size="14" fill="#1a1a1a" text-anchor="middle" textLength="14.64" lengthAdjust="spacingAndGlyphs">26</text>
<text x="1008.38" y="1273" font-size="14" fill="#1a1a1a" text-anchor="middle" textLength="14.64" lengthAdjust="spacingAndGlyphs">28</text>
<text x="1043.37" y="1273" font-size="14" fill="#1a1a1a" text-anchor="middle" textLength="14.64" lengthAdjust="spacingAndGlyphs">30</text>
<text x="1078.35" y="1273" font-size="14" fill="#1a1a1a" text-anchor="middle" textLength="14.64" lengthAdjust="spacingAndGlyphs">32</text>
<text x="1113.34" y="1273" font-size="14" fill="#1a1a1a" text-anchor="middle" textLength="14.64" lengthAdjust="spacingAndGlyphs">34</text>
<text x="1148.33" y="1273" font-size="14" fill="#1a1a1a" text-anchor="middle" textLength="14.64" lengthAdjust="spacingAndGlyphs">36</text>
<text x="1183.31" y="1273" font-size="14" fill="#1a1a1a" text-anchor="middle" textLength="14.64" lengthAdjust="spacingAndGlyphs">38</text>
<text x="1218.3" y="1273" font-size="14" fill="#1a1a1a" text-anchor="middle" textLength="14.64" lengthAdjust="spacingAndGlyphs">40</text>
<text x="1222" y="815.3" font-size="14" fill="#1a1a1a" textLength="26.34" lengthAdjust="spacingAndGlyphs">97%</text>
<text x="1222" y="842.8" font-size="14" fill="#1a1a1a" textLength="26.34" lengthAdjust="spacingAndGlyphs">90%</text>
<text x="1222" y="964.3" font-size="14" fill="#1a1a1a" textLength="26.34" lengthAdjust="spacingAndGlyphs">10%</text>
<text x="1222" y="992.3" font-size="14" fill="#1a1a1a" textLength="19.02" lengthAdjust="spacingAndGlyphs">3%</text>
<path d="M862.3,1233.2 h12.2 M868.4,1227.1 v12.2" stroke="#3a3f9e" stroke-width="3" fill="none"/>
<path d="M899.6,1229.6 h12.2 M905.7,1223.5 v12.2" stroke="#3a3f9e" stroke-width="3" fill="none"/>
<path d="M933.9,1225.3 h12.2 M940,1219.2 v12.2" stroke="#3a3f9e" stroke-width="3" fill="none"/>
<path d="M969.2,1219 h12.2 M975.3,1212.9 v12.2" stroke="#e5142a" stroke-width="3" fill="none"/>
<text x="943.5" y="699.5" font-size="17" font-weight="bold" fill="#2f3a99" text-anchor="middle">Estimated Fetal Weight</text>
<text x="934" y="1293" font-size="15" font-weight="bold" fill="#2f3a99" text-anchor="middle">weeks</text>
<text transform="translate(651.8,989.2) rotate(-90)" font-size="15" font-weight="bold" fill="#2f3a99" text-anchor="middle">g</text>
<text x="640.5" y="1309.5" font-size="12.4" fill="#3a3fa0" textLength="245" lengthAdjust="spacing">Hadlock et al. Radiology 1991; 181:129-133</text>
<rect x="130.8" y="1334.7" width="993" height="648.3" fill="#000"/>
<rect x="133.3" y="1337.4" width="987.5" height="643.4" fill="#cdcfe5"/>
<rect x="137.5" y="1338" width="176.2" height="22.6" fill="url(#dd)"/>
<rect x="138.15" y="1338.65" width="174.9" height="21.3" fill="none" stroke="#3c3684" stroke-width="1.5"/>
<path d="M139.4,1359.3 V1339.9 H312.4" fill="none" stroke="#fbfbff" stroke-width="1.2"/>
<path d="M137.5,1361.2 H314.3 V1338" fill="none" stroke="#fbfbff" stroke-width="1.2"/>
<text transform="translate(158.5,1356.5) scale(1.1432,1)" font-size="15.8" font-weight="bold" fill="#0c0c14">Gestational age</text>
<path d="M294.9,1346.9 h12.2 l-6.1,6 z" fill="#0a0a12"/>
<rect x="330.3" y="1339.2" width="45.9" height="22.8" fill="url(#fldro)"/>
<path d="M330.8,1362 V1339.7 H376.2" fill="none" stroke="#8e8fa8" stroke-width="1.2"/>
<path d="M330.8,1361.5 H375.7 V1339.7" fill="none" stroke="#fdfdff" stroke-width="1.2"/>
<text transform="translate(371.8,1355.7) scale(1.1013,1)" font-size="16" fill="#15151c" text-anchor="end" stroke="#15151c" stroke-width="0.3">26</text>
<text transform="translate(390.4,1356.5) scale(1.1630,1)" font-size="15.8" font-weight="bold" fill="#0c0c14">weeks +</text>
<rect x="480.6" y="1339.2" width="32.6" height="22.8" fill="url(#fldro)"/>
<path d="M481.1,1362 V1339.7 H513.2" fill="none" stroke="#8e8fa8" stroke-width="1.2"/>
<path d="M481.1,1361.5 H512.7 V1339.7" fill="none" stroke="#fdfdff" stroke-width="1.2"/>
<text transform="translate(509.2,1355.7) scale(1.0600,1)" font-size="16" fill="#15151c" text-anchor="end" stroke="#15151c" stroke-width="0.3">1</text>
<text transform="translate(528,1356.5) scale(1.0720,1)" font-size="15.8" font-weight="bold" fill="#0c0c14">days</text>
<text transform="translate(137,1384) scale(1.0871,1)" font-size="15.8" font-weight="bold" fill="#0c0c14">EDD by scan</text>
<rect x="330.5" y="1366.8" width="117.3" height="26" fill="url(#fld)"/>
<path d="M331,1392.8 V1367.3 H447.8" fill="none" stroke="#8e8fa8" stroke-width="1.2"/>
<path d="M331,1392.3 H447.3 V1367.3" fill="none" stroke="#fdfdff" stroke-width="1.2"/>
<text transform="translate(332.1,1384.9) scale(1.1276,1)" font-size="16" fill="#15151c" stroke="#15151c" stroke-width="0.3">21/07/2016</text>
<text transform="translate(463.3,1381.8) scale(1.1423,1)" font-size="15.8" font-weight="bold" fill="#157a3c">(From dates)</text>
<text transform="translate(587.6,1384) scale(1.1115,1)" font-size="15.8" font-weight="bold" fill="#0c0c14">EDD by dates</text>
<rect x="727.5" y="1366.8" width="119.5" height="26" fill="url(#fld)"/>
<path d="M728,1392.8 V1367.3 H847" fill="none" stroke="#8e8fa8" stroke-width="1.2"/>
<path d="M728,1392.3 H846.5 V1367.3" fill="none" stroke="#fdfdff" stroke-width="1.2"/>
<text transform="translate(729.1,1384.9) scale(1.1276,1)" font-size="16" fill="#15151c" stroke="#15151c" stroke-width="0.3">21/07/2016</text>
<text x="137" y="1429" font-size="19.5" font-weight="bold" fill="#0c0c14" textLength="182" lengthAdjust="spacing">Doppler ultrasound</text>
<text x="137" y="1459" font-size="19.5" font-weight="bold" fill="#0c0c14" textLength="126.7" lengthAdjust="spacing">Uterine artery</text>
<text transform="translate(279.6,1458.2) scale(1.1298,1)" font-size="15.8" font-weight="bold" fill="#0c0c14">PI left</text>
<rect x="363.6" y="1440.1" width="72.5" height="23" fill="url(#fld)"/>
<path d="M364.1,1463.1 V1440.6 H436.1" fill="none" stroke="#8e8fa8" stroke-width="1.2"/>
<path d="M364.1,1462.6 H435.6 V1440.6" fill="none" stroke="#fdfdff" stroke-width="1.2"/>
<text transform="translate(431.5,1456.7) scale(1.0600,1)" font-size="16" fill="#15151c" text-anchor="end" stroke="#15151c" stroke-width="0.3">1.520</text>
<line x1="480.3" y1="1451.6" x2="541" y2="1451.6" stroke="#52525c" stroke-width="1"/>
<line x1="480.8" y1="1442.6" x2="480.8" y2="1460.6" stroke="#52525c" stroke-width="1"/>
<line x1="540.5" y1="1442.6" x2="540.5" y2="1460.6" stroke="#52525c" stroke-width="1"/>
<line x1="510.65" y1="1447.1" x2="510.65" y2="1456.1" stroke="#52525c" stroke-width="1"/>
<circle cx="546.8" cy="1451.6" r="4.6" fill="#e8101f"/>
<text transform="translate(585.6,1458.2) scale(1.1301,1)" font-size="15.8" font-weight="bold" fill="#0c0c14">PI right</text>
<rect x="662.3" y="1440.1" width="73.8" height="23" fill="url(#fld)"/>
<path d="M662.8,1463.1 V1440.6 H736.1" fill="none" stroke="#8e8fa8" stroke-width="1.2"/>
<path d="M662.8,1462.6 H735.6 V1440.6" fill="none" stroke="#fdfdff" stroke-width="1.2"/>
<text transform="translate(731.5,1456.7) scale(1.0600,1)" font-size="16" fill="#15151c" text-anchor="end" stroke="#15151c" stroke-width="0.3">1.860</text>
<line x1="780" y1="1451.6" x2="840.8" y2="1451.6" stroke="#52525c" stroke-width="1"/>
<line x1="780.5" y1="1442.6" x2="780.5" y2="1460.6" stroke="#52525c" stroke-width="1"/>
<line x1="840.3" y1="1442.6" x2="840.3" y2="1460.6" stroke="#52525c" stroke-width="1"/>
<line x1="810.4" y1="1447.1" x2="810.4" y2="1456.1" stroke="#52525c" stroke-width="1"/>
<circle cx="859.2" cy="1451.6" r="4.6" fill="#e8101f"/>
<text transform="translate(280,1489.2) scale(1.1390,1)" font-size="15.8" font-weight="bold" fill="#0c0c14">Mean PI</text>
<rect x="363.6" y="1471.1" width="72.5" height="23" fill="url(#fldro)"/>
<path d="M364.1,1494.1 V1471.6 H436.1" fill="none" stroke="#8e8fa8" stroke-width="1.2"/>
<path d="M364.1,1493.6 H435.6 V1471.6" fill="none" stroke="#fdfdff" stroke-width="1.2"/>
<text transform="translate(431.5,1487.7) scale(1.0600,1)" font-size="16" fill="#15151c" text-anchor="end" stroke="#15151c" stroke-width="0.3">1.69</text>
<line x1="480.3" y1="1482.6" x2="541" y2="1482.6" stroke="#52525c" stroke-width="1"/>
<line x1="480.8" y1="1473.6" x2="480.8" y2="1491.6" stroke="#52525c" stroke-width="1"/>
<line x1="540.5" y1="1473.6" x2="540.5" y2="1491.6" stroke="#52525c" stroke-width="1"/>
<line x1="510.65" y1="1478.1" x2="510.65" y2="1487.1" stroke="#52525c" stroke-width="1"/>
<circle cx="554" cy="1482.6" r="4.6" fill="#e8101f"/>
<text transform="translate(279.4,1520.3) scale(1.1073,1)" font-size="15.8" font-weight="bold" fill="#0c0c14">RI left</text>
<rect x="363.6" y="1502.2" width="72.5" height="23" fill="url(#fld)"/>
<path d="M364.1,1525.2 V1502.7 H436.1" fill="none" stroke="#8e8fa8" stroke-width="1.2"/>
<path d="M364.1,1524.7 H435.6 V1502.7" fill="none" stroke="#fdfdff" stroke-width="1.2"/>
<text transform="translate(431.5,1518.8) scale(1.0600,1)" font-size="16" fill="#15151c" text-anchor="end" stroke="#15151c" stroke-width="0.3">0.73</text>
<line x1="480.3" y1="1513.7" x2="541" y2="1513.7" stroke="#52525c" stroke-width="1"/>
<line x1="480.8" y1="1504.7" x2="480.8" y2="1522.7" stroke="#52525c" stroke-width="1"/>
<line x1="540.5" y1="1504.7" x2="540.5" y2="1522.7" stroke="#52525c" stroke-width="1"/>
<line x1="510.65" y1="1509.2" x2="510.65" y2="1518.2" stroke="#52525c" stroke-width="1"/>
<circle cx="565.3" cy="1513.7" r="4.6" fill="#e8101f"/>
<text transform="translate(585.6,1520.3) scale(1.1267,1)" font-size="15.8" font-weight="bold" fill="#0c0c14">RI right</text>
<rect x="662.3" y="1502.2" width="73.8" height="23" fill="url(#fld)"/>
<path d="M662.8,1525.2 V1502.7 H736.1" fill="none" stroke="#8e8fa8" stroke-width="1.2"/>
<path d="M662.8,1524.7 H735.6 V1502.7" fill="none" stroke="#fdfdff" stroke-width="1.2"/>
<text transform="translate(731.5,1518.8) scale(1.0600,1)" font-size="16" fill="#15151c" text-anchor="end" stroke="#15151c" stroke-width="0.3">0.78</text>
<line x1="780" y1="1513.7" x2="840.8" y2="1513.7" stroke="#52525c" stroke-width="1"/>
<line x1="780.5" y1="1504.7" x2="780.5" y2="1522.7" stroke="#52525c" stroke-width="1"/>
<line x1="840.3" y1="1504.7" x2="840.3" y2="1522.7" stroke="#52525c" stroke-width="1"/>
<line x1="810.4" y1="1509.2" x2="810.4" y2="1518.2" stroke="#52525c" stroke-width="1"/>
<path d="M862,1510 v7.4 l7,-3.7 z" fill="#e8101f"/>
<text transform="translate(279.4,1550.1) scale(1.0857,1)" font-size="15.8" font-weight="bold" fill="#0c0c14">Notch</text>
<rect x="363" y="1531" width="196.9" height="24.9" fill="url(#dd)"/>
<rect x="363.65" y="1531.65" width="195.6" height="23.6" fill="none" stroke="#3c3684" stroke-width="1.5"/>
<path d="M364.9,1554.6 V1532.9 H558.6" fill="none" stroke="#fbfbff" stroke-width="1.2"/>
<path d="M363,1556.5 H560.5 V1531" fill="none" stroke="#fbfbff" stroke-width="1.2"/>
<path d="M541.8,1541.05 h12.2 l-6.1,6 z" fill="#0a0a12"/>
<path d="M137.4,1980.8 V1562.6 H1120.8" fill="none" stroke="#9fa0b8" stroke-width="1.3"/>
<path d="M138.5,1980.8 V1563.8 H1120.8" fill="none" stroke="#dddeee" stroke-width="1"/>
<path d="M152.4,1980.8 V1605 H1111" fill="none" stroke="#fcfcff" stroke-width="1.4"/>
<path d="M1109.8,1605.6 V1980.8" fill="none" stroke="#8e8ac4" stroke-width="1.4"/>
<path d="M1111.2,1604.5 V1980.8" fill="none" stroke="#4e4a8c" stroke-width="1.5"/>
<path d="M1112.4,1605 V1980.8" fill="none" stroke="#e6e6f6" stroke-width="0.8"/>
<rect x="152.4" y="1575.5" width="92.3" height="30.5" fill="#cdcfe5"/>
<path d="M152.4,1605.5 V1577.5 Q152.4,1575.5 154.4,1575.5 H242" fill="none" stroke="#fcfcff" stroke-width="1.4"/>
<path d="M242,1575.5 Q244.7,1575.5 244.7,1578 V1604.5" fill="none" stroke="#55559c" stroke-width="1.6"/>
<path d="M245.7,1580.5 Q245.7,1578.5 247.7,1578.5 H359" fill="none" stroke="#fcfcff" stroke-width="1.4"/>
<path d="M359,1578.5 Q361.7,1578.5 361.7,1581 V1604.3" fill="none" stroke="#55559c" stroke-width="1.6"/>
<text transform="translate(166.6,1596) scale(1.1336,1)" font-size="15.8" font-weight="bold" fill="#0c0c14">Fetus 1</text>
<text transform="translate(258.9,1599.3) scale(1.1264,1)" font-size="15.8" font-weight="bold" fill="#0c0c14">New Fetus</text>
<text x="166.6" y="1632.4" font-size="19.5" font-weight="bold" fill="#0c0c14" textLength="144.8" lengthAdjust="spacing">Umbilical artery</text>
<text transform="translate(385.2,1631.8) scale(0.9514,1)" font-size="15.8" font-weight="bold" fill="#0c0c14">PI</text>
<rect x="464.4" y="1613.6" width="73.8" height="23.2" fill="url(#fld)"/>
<path d="M464.9,1636.8 V1614.1 H538.2" fill="none" stroke="#8e8fa8" stroke-width="1.2"/>
<path d="M464.9,1636.3 H537.7 V1614.1" fill="none" stroke="#fdfdff" stroke-width="1.2"/>
<text transform="translate(533.6,1630.3) scale(1.0600,1)" font-size="16" fill="#15151c" text-anchor="end" stroke="#15151c" stroke-width="0.3">1.43</text>
<line x1="650.8" y1="1625.2" x2="710.3" y2="1625.2" stroke="#52525c" stroke-width="1"/>
<line x1="651.3" y1="1617.2" x2="651.3" y2="1633.2" stroke="#52525c" stroke-width="1"/>
<line x1="709.8" y1="1617.2" x2="709.8" y2="1633.2" stroke="#52525c" stroke-width="1"/>
<line x1="680.55" y1="1620.7" x2="680.55" y2="1629.7" stroke="#52525c" stroke-width="1"/>
<circle cx="698.8" cy="1625.2" r="4.6" fill="#e8101f"/>
<text transform="translate(754.6,1631.8) scale(1.0127,1)" font-size="15.8" font-weight="bold" fill="#0c0c14">RI</text>
<rect x="834.6" y="1613.6" width="73.9" height="23.2" fill="url(#fld)"/>
<path d="M835.1,1636.8 V1614.1 H908.5" fill="none" stroke="#8e8fa8" stroke-width="1.2"/>
<path d="M835.1,1636.3 H908 V1614.1" fill="none" stroke="#fdfdff" stroke-width="1.2"/>
<text transform="translate(903.9,1630.3) scale(1.0600,1)" font-size="16" fill="#15151c" text-anchor="end" stroke="#15151c" stroke-width="0.3">0.79</text>
<line x1="1007" y1="1625.2" x2="1067.3" y2="1625.2" stroke="#52525c" stroke-width="1"/>
<line x1="1007.5" y1="1617.2" x2="1007.5" y2="1633.2" stroke="#52525c" stroke-width="1"/>
<line x1="1066.8" y1="1617.2" x2="1066.8" y2="1633.2" stroke="#52525c" stroke-width="1"/>
<line x1="1037.15" y1="1620.7" x2="1037.15" y2="1629.7" stroke="#52525c" stroke-width="1"/>
<circle cx="1050.9" cy="1625.2" r="4.6" fill="#e8101f"/>
<text transform="translate(385.2,1662.4) scale(1.0357,1)" font-size="15.8" font-weight="bold" fill="#0c0c14">TAV</text>
<rect x="464.4" y="1644.2" width="59.2" height="23.2" fill="url(#fld)"/>
<path d="M464.9,1667.4 V1644.7 H523.6" fill="none" stroke="#8e8fa8" stroke-width="1.2"/>
<path d="M464.9,1666.9 H523.1 V1644.7" fill="none" stroke="#fdfdff" stroke-width="1.2"/>
<text transform="translate(539.8,1662.4) scale(1.0470,1)" font-size="15.8" font-weight="bold" fill="#0c0c14">cm/s</text>
<text transform="translate(385.2,1692.7) scale(1.0506,1)" font-size="15.8" font-weight="bold" fill="#0c0c14">EDF</text>
<rect x="464.7" y="1674" width="219.7" height="24.2" fill="url(#dd)"/>
<rect x="465.35" y="1674.65" width="218.4" height="22.9" fill="none" stroke="#3c3684" stroke-width="1.5"/>
<path d="M466.6,1696.9 V1675.9 H683.1" fill="none" stroke="#fbfbff" stroke-width="1.2"/>
<path d="M464.7,1698.8 H685 V1674" fill="none" stroke="#fbfbff" stroke-width="1.2"/>
<text transform="translate(485.6,1693.3) scale(1.1500,1)" font-size="15.8" font-weight="bold" fill="#0c0c14">Intermittently absent</text>
<path d="M666.8,1683.7 h12.2 l-6.1,6 z" fill="#0a0a12"/>
<text x="167.8" y="1724.6" font-size="19.5" font-weight="bold" fill="#0c0c14" textLength="136.4" lengthAdjust="spacing">Thoracic Aorta</text>
<text transform="translate(385.2,1724.2) scale(0.9514,1)" font-size="15.8" font-weight="bold" fill="#0c0c14">PI</text>
<rect x="464.4" y="1706" width="73.6" height="23.2" fill="url(#fld)"/>
<path d="M464.9,1729.2 V1706.5 H538" fill="none" stroke="#8e8fa8" stroke-width="1.2"/>
<path d="M464.9,1728.7 H537.5 V1706.5" fill="none" stroke="#fdfdff" stroke-width="1.2"/>
<text transform="translate(754.6,1724.2) scale(1.0127,1)" font-size="15.8" font-weight="bold" fill="#0c0c14">RI</text>
<rect x="834.6" y="1706" width="73.9" height="23.2" fill="url(#fld)"/>
<path d="M835.1,1729.2 V1706.5 H908.5" fill="none" stroke="#8e8fa8" stroke-width="1.2"/>
<path d="M835.1,1728.7 H908 V1706.5" fill="none" stroke="#fdfdff" stroke-width="1.2"/>
<text transform="translate(385.2,1754.1) scale(1.0357,1)" font-size="15.8" font-weight="bold" fill="#0c0c14">TAV</text>
<rect x="464.4" y="1735.9" width="73.6" height="23.2" fill="url(#fld)"/>
<path d="M464.9,1759.1 V1736.4 H538" fill="none" stroke="#8e8fa8" stroke-width="1.2"/>
<path d="M464.9,1758.6 H537.5 V1736.4" fill="none" stroke="#fdfdff" stroke-width="1.2"/>
<text transform="translate(553.2,1754.1) scale(1.0470,1)" font-size="15.8" font-weight="bold" fill="#0c0c14">cm/s</text>
<text transform="translate(385.2,1784.3) scale(1.0506,1)" font-size="15.8" font-weight="bold" fill="#0c0c14">EDF</text>
<rect x="464.7" y="1765.6" width="195.5" height="24.2" fill="url(#dd)"/>
<rect x="465.35" y="1766.25" width="194.2" height="22.9" fill="none" stroke="#3c3684" stroke-width="1.5"/>
<path d="M466.6,1788.5 V1767.5 H658.9" fill="none" stroke="#fbfbff" stroke-width="1.2"/>
<path d="M464.7,1790.4 H660.8 V1765.6" fill="none" stroke="#fbfbff" stroke-width="1.2"/>
<path d="M643.1,1775.3 h12.2 l-6.1,6 z" fill="#0a0a12"/>
<text x="166.6" y="1816.6" font-size="19.5" font-weight="bold" fill="#0c0c14" textLength="201.6" lengthAdjust="spacing">Middle cerebral artery</text>
<text transform="translate(385.2,1816.2) scale(0.9514,1)" font-size="15.8" font-weight="bold" fill="#0c0c14">PI</text>
<rect x="464.4" y="1798" width="73.6" height="23.2" fill="url(#fld)"/>
<path d="M464.9,1821.2 V1798.5 H538" fill="none" stroke="#8e8fa8" stroke-width="1.2"/>
<path d="M464.9,1820.7 H537.5 V1798.5" fill="none" stroke="#fdfdff" stroke-width="1.2"/>
<text transform="translate(533.4,1814.7) scale(1.0600,1)" font-size="16" fill="#15151c" text-anchor="end" stroke="#15151c" stroke-width="0.3">1.21</text>
<line x1="650.8" y1="1809.6" x2="710.3" y2="1809.6" stroke="#52525c" stroke-width="1"/>
<line x1="651.3" y1="1801.6" x2="651.3" y2="1817.6" stroke="#52525c" stroke-width="1"/>
<line x1="709.8" y1="1801.6" x2="709.8" y2="1817.6" stroke="#52525c" stroke-width="1"/>
<line x1="680.55" y1="1805.1" x2="680.55" y2="1814.1" stroke="#52525c" stroke-width="1"/>
<circle cx="633.1" cy="1809.6" r="4.6" fill="#e8101f"/>
<text transform="translate(754.6,1816.2) scale(1.0127,1)" font-size="15.8" font-weight="bold" fill="#0c0c14">RI</text>
<rect x="834.6" y="1798" width="73.9" height="23.2" fill="url(#fld)"/>
<path d="M835.1,1821.2 V1798.5 H908.5" fill="none" stroke="#8e8fa8" stroke-width="1.2"/>
<path d="M835.1,1820.7 H908 V1798.5" fill="none" stroke="#fdfdff" stroke-width="1.2"/>
<text transform="translate(903.9,1814.7) scale(1.0600,1)" font-size="16" fill="#15151c" text-anchor="end" stroke="#15151c" stroke-width="0.3">0.70</text>
<line x1="1007" y1="1809.6" x2="1067.3" y2="1809.6" stroke="#52525c" stroke-width="1"/>
<line x1="1007.5" y1="1801.6" x2="1007.5" y2="1817.6" stroke="#52525c" stroke-width="1"/>
<line x1="1066.8" y1="1801.6" x2="1066.8" y2="1817.6" stroke="#52525c" stroke-width="1"/>
<line x1="1037.15" y1="1805.1" x2="1037.15" y2="1814.1" stroke="#52525c" stroke-width="1"/>
<circle cx="1016.8" cy="1809.6" r="4.6" fill="#e8101f"/>
<text transform="translate(385.2,1847.5) scale(0.9205,1)" font-size="15.8" font-weight="bold" fill="#0c0c14">PSV</text>
<rect x="464.4" y="1829.3" width="86.8" height="23.2" fill="url(#fld)"/>
<path d="M464.9,1852.5 V1829.8 H551.2" fill="none" stroke="#8e8fa8" stroke-width="1.2"/>
<path d="M464.9,1852 H550.7 V1829.8" fill="none" stroke="#fdfdff" stroke-width="1.2"/>
<text transform="translate(546.6,1846) scale(1.0600,1)" font-size="16" fill="#15151c" text-anchor="end" stroke="#15151c" stroke-width="0.3">42.1</text>
<text transform="translate(566.6,1847.5) scale(1.0470,1)" font-size="15.8" font-weight="bold" fill="#0c0c14">cm/s</text>
<line x1="650.8" y1="1840.9" x2="710.3" y2="1840.9" stroke="#52525c" stroke-width="1"/>
<line x1="651.3" y1="1832.9" x2="651.3" y2="1848.9" stroke="#52525c" stroke-width="1"/>
<line x1="709.8" y1="1832.9" x2="709.8" y2="1848.9" stroke="#52525c" stroke-width="1"/>
<line x1="680.55" y1="1836.4" x2="680.55" y2="1845.4" stroke="#52525c" stroke-width="1"/>
<circle cx="693.9" cy="1840.9" r="4.6" fill="#e8101f"/>
<text transform="translate(385.2,1878.4) scale(1.0357,1)" font-size="15.8" font-weight="bold" fill="#0c0c14">TAV</text>
<rect x="464.4" y="1860.2" width="73.6" height="23.2" fill="url(#fld)"/>
<path d="M464.9,1883.4 V1860.7 H538" fill="none" stroke="#8e8fa8" stroke-width="1.2"/>
<path d="M464.9,1882.9 H537.5 V1860.7" fill="none" stroke="#fdfdff" stroke-width="1.2"/>
<text transform="translate(533.4,1876.9) scale(1.0600,1)" font-size="16" fill="#15151c" text-anchor="end" stroke="#15151c" stroke-width="0.3">14.6</text>
<text transform="translate(553.2,1878.4) scale(1.0470,1)" font-size="15.8" font-weight="bold" fill="#0c0c14">cm/s</text>
<line x1="650.8" y1="1871.8" x2="710.3" y2="1871.8" stroke="#52525c" stroke-width="1"/>
<line x1="651.3" y1="1863.8" x2="651.3" y2="1879.8" stroke="#52525c" stroke-width="1"/>
<line x1="709.8" y1="1863.8" x2="709.8" y2="1879.8" stroke="#52525c" stroke-width="1"/>
<line x1="680.55" y1="1867.3" x2="680.55" y2="1876.3" stroke="#52525c" stroke-width="1"/>
<circle cx="695.9" cy="1871.8" r="4.6" fill="#e8101f"/>
<text transform="translate(167.8,1909.4) scale(1.1506,1)" font-size="15.8" font-weight="bold" fill="#0c0c14">Cerebro-placental ratio</text>
<rect x="464.4" y="1890.9" width="59.2" height="23.2" fill="url(#fldro)"/>
<path d="M464.9,1914.1 V1891.4 H523.6" fill="none" stroke="#8e8fa8" stroke-width="1.2"/>
<path d="M464.9,1913.6 H523.1 V1891.4" fill="none" stroke="#fdfdff" stroke-width="1.2"/>
<text transform="translate(520.6,1907.6) scale(1.0600,1)" font-size="16" fill="#15151c" text-anchor="end" stroke="#15151c" stroke-width="0.3">0.85</text>
<line x1="650.8" y1="1902.5" x2="710.3" y2="1902.5" stroke="#52525c" stroke-width="1"/>
<line x1="651.3" y1="1894.5" x2="651.3" y2="1910.5" stroke="#52525c" stroke-width="1"/>
<line x1="709.8" y1="1894.5" x2="709.8" y2="1910.5" stroke="#52525c" stroke-width="1"/>
<line x1="680.55" y1="1898" x2="680.55" y2="1907" stroke="#52525c" stroke-width="1"/>
<circle cx="635.2" cy="1902.5" r="4.6" fill="#e8101f"/>
<text x="167.8" y="1940.1" font-size="19.5" font-weight="bold" fill="#0c0c14" textLength="154.6" lengthAdjust="spacing">Ductus Venosus</text>
<text transform="translate(385.2,1939.1) scale(1.0973,1)" font-size="15.8" font-weight="bold" fill="#0c0c14">A-wave</text>
<rect x="464.7" y="1920.4" width="195.5" height="24.2" fill="url(#dd)"/>
<rect x="465.35" y="1921.05" width="194.2" height="22.9" fill="none" stroke="#3c3684" stroke-width="1.5"/>
<path d="M466.6,1943.3 V1922.3 H658.9" fill="none" stroke="#fbfbff" stroke-width="1.2"/>
<path d="M464.7,1945.2 H660.8 V1920.4" fill="none" stroke="#fbfbff" stroke-width="1.2"/>
<text transform="translate(486.4,1939.7) scale(1.1524,1)" font-size="15.8" font-weight="bold" fill="#0c0c14">positive</text>
<path d="M643.1,1930.1 h12.2 l-6.1,6 z" fill="#0a0a12"/>
<text transform="translate(385.2,1970.8) scale(1.0014,1)" font-size="15.8" font-weight="bold" fill="#0c0c14">PIV</text>
<rect x="464.4" y="1952.6" width="73.6" height="23.2" fill="url(#fld)"/>
<path d="M464.9,1975.8 V1953.1 H538" fill="none" stroke="#8e8fa8" stroke-width="1.2"/>
<path d="M464.9,1975.3 H537.5 V1953.1" fill="none" stroke="#fdfdff" stroke-width="1.2"/>
<text transform="translate(533.4,1969.3) scale(1.0600,1)" font-size="16" fill="#15151c" text-anchor="end" stroke="#15151c" stroke-width="0.3">0.72</text>
<line x1="650.8" y1="1964.2" x2="710.3" y2="1964.2" stroke="#52525c" stroke-width="1"/>
<line x1="651.3" y1="1956.2" x2="651.3" y2="1972.2" stroke="#52525c" stroke-width="1"/>
<line x1="709.8" y1="1956.2" x2="709.8" y2="1972.2" stroke="#52525c" stroke-width="1"/>
<line x1="680.55" y1="1959.7" x2="680.55" y2="1968.7" stroke="#52525c" stroke-width="1"/>
<circle cx="690.6" cy="1964.2" r="4.6" fill="#e8101f"/>
<text transform="translate(755.4,1970.8) scale(1.0254,1)" font-size="15.8" font-weight="bold" fill="#0c0c14">TAV</text>
<rect x="834.6" y="1952.6" width="73.9" height="23.2" fill="url(#fld)"/>
<path d="M835.1,1975.8 V1953.1 H908.5" fill="none" stroke="#8e8fa8" stroke-width="1.2"/>
<path d="M835.1,1975.3 H908 V1953.1" fill="none" stroke="#fdfdff" stroke-width="1.2"/>
<text transform="translate(923.6,1970.8) scale(1.0498,1)" font-size="15.8" font-weight="bold" fill="#0c0c14">cm/s</text>
</svg></body></html>
